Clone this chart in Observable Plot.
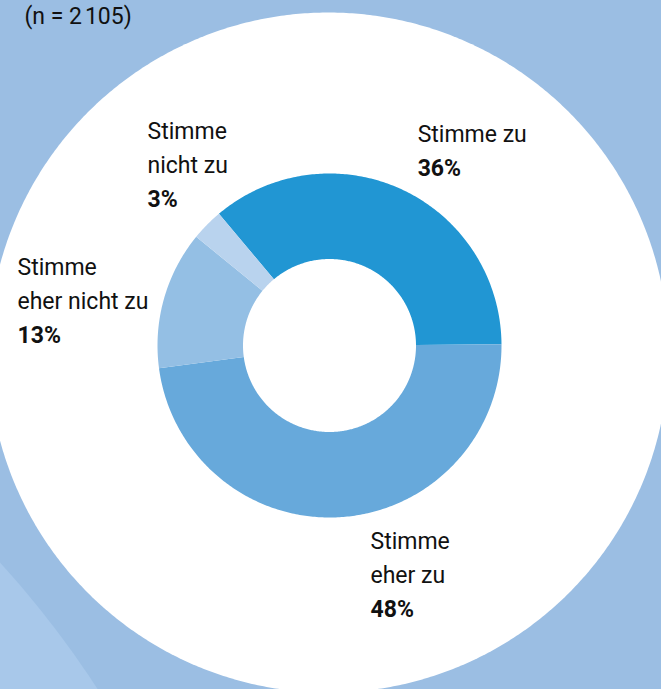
<!DOCTYPE html>
<html><head><meta charset="utf-8">
<script src="https://cdn.jsdelivr.net/npm/d3@7"></script>
<script src="https://cdn.jsdelivr.net/npm/@observablehq/plot@0.6"></script>
<style>
html,body{margin:0;padding:0;background:#9bbee3;}
#chart svg{display:block;}
</style></head><body><div id="chart"></div>
<script>
// ---- data ----
const categories = ["Stimme zu", "Stimme eher zu", "Stimme eher nicht zu", "Stimme nicht zu"];
const shares = [36, 48, 13, 3];
const labelNames = ["Stimme zu", "Stimme\neher zu", "Stimme\neher nicht zu", "Stimme\nnicht zu"];
const sliceColors = ["#2196d3", "#67a9db", "#94bfe4", "#b9d3ee"];
const title = "(n = 2\u202F105)";

// ---- layout ----
const W = 661, H = 689, S = 172, CX = 329, CY = 345;
const R_OUT = 1, R_IN = 86.5 / 172;
const START = -40 * Math.PI / 180;
const labelDx = [16, 29, -146.5, -59.5];   // px offset of label from outer edge at mid-angle
const labelDy = [-47, 66, 10, -52];
const LINE = 34, FS = 23;

const pie = d3.pie().sort(null).startAngle(START).endAngle(START + 2 * Math.PI);
const arcs = pie(shares);
const pt = (r, a) => [r * Math.sin(a), r * Math.cos(a)];

const slicePts = [];
arcs.forEach((d, i) => {
  const n = Math.max(8, Math.ceil((d.endAngle - d.startAngle) * 90));
  for (let k = 0; k <= n; k++) {
    const a = d.startAngle + (d.endAngle - d.startAngle) * k / n;
    const [x, y] = pt(R_OUT, a);
    slicePts.push({cat: categories[i], x, y});
  }
  for (let k = n; k >= 0; k--) {
    const a = d.startAngle + (d.endAngle - d.startAngle) * k / n;
    const [x, y] = pt(R_IN, a);
    slicePts.push({cat: categories[i], x, y});
  }
});

function circle(cx, cy, r, n = 720) {
  return d3.range(n + 1).map(k => {
    const a = 2 * Math.PI * k / n;
    return {x: cx + r * Math.cos(a), y: cy + r * Math.sin(a)};
  });
}
const bgLight = circle(-6.221, -5.169, 5.814);
const bgWhite = circle(-0.006, -0.041, 1.977);

const labels = arcs.map((d, i) => {
  const mid = (d.startAngle + d.endAngle) / 2;
  const [x0, y0] = pt(R_OUT, mid);
  const x = x0 + labelDx[i] / S, y = y0 - labelDy[i] / S;
  return {name: labelNames[i], pct: shares[i] + "%", x, y, y2: y - LINE / S};
});

const chart = Plot.plot({
  width: W, height: H,
  margin: 0,
  style: {background: "#9bbee3", fontFamily: "Roboto, sans-serif", color: "#111"},
  x: {domain: [-CX / S, (W - CX) / S], axis: null},
  y: {domain: [(CY - H) / S, CY / S], axis: null},
  color: {domain: categories, range: sliceColors},
  marks: [
    Plot.line(bgLight, {x: "x", y: "y", fill: "#a8c8ea", stroke: "none"}),
    Plot.line(bgWhite, {x: "x", y: "y", fill: "#ffffff", stroke: "none"}),
    Plot.line(slicePts, {x: "x", y: "y", z: "cat", fill: "cat", stroke: "none"}),
    Plot.text(labels, {x: "x", y: "y", text: "name", textAnchor: "start", lineAnchor: "bottom",
      lineHeight: LINE / FS, fontSize: FS, fill: "#111"}),
    Plot.text(labels, {x: "x", y: "y2", text: "pct", textAnchor: "start", lineAnchor: "bottom",
      fontSize: FS, fontWeight: "bold", fill: "#111"}),
    Plot.text([title], {frameAnchor: "top-left", dx: 24, dy: 23, lineAnchor: "bottom",
      textAnchor: "start", fontSize: FS, fill: "#111"})
  ]
});
document.getElementById("chart").appendChild(chart);
</script></body></html>
